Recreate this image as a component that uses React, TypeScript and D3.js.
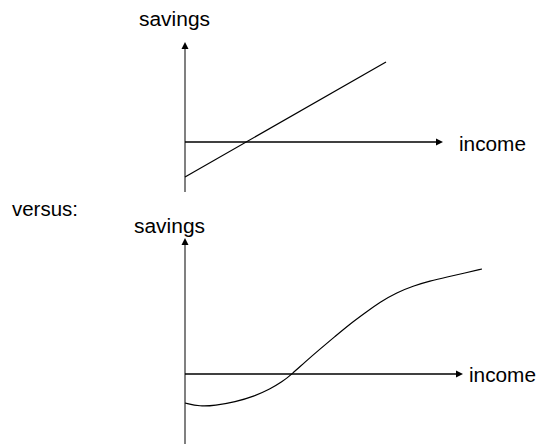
import React from "react";
import * as d3 from "d3";

// Data (income, savings) in chart units
const linearIncome = [0, 201];
const linearSavings = [-35, 80];

const curveIncome = [0, 15, 30, 50, 70, 85, 97, 107, 120, 135, 150, 165, 180, 195, 212, 228, 245, 262, 280, 297];
const curveSavings = [-29, -32.5, -31.5, -28, -22, -15, -8, 0, 12, 25, 37.5, 50, 61, 72, 81.5, 88, 93, 97, 101, 105];

const axisLabels = ["savings", "income"];
const separatorLabel = "versus:";

const W = 538;
const H = 444;
const FONT = "'Liberation Sans', Arial, Helvetica, sans-serif";

type PanelProps = {
  originX: number;
  originY: number;
  yMin: number;
  yMax: number;
  xMax: number;
  xs: number[];
  ys: number[];
  curved: boolean;
  savingsPos: [number, number];
  incomePos: [number, number];
};

function Panel(p: PanelProps) {
  const x = d3.scaleLinear().domain([0, 100]).range([p.originX, p.originX + 100]);
  const y = d3.scaleLinear().domain([0, 100]).range([p.originY, p.originY - 100]);
  const pts: [number, number][] = p.xs.map((v, i) => [v, p.ys[i]]);
  const line = d3
    .line<[number, number]>()
    .x((d) => x(d[0]))
    .y((d) => y(d[1]))
    .curve(p.curved ? d3.curveBasis : d3.curveLinear);

  const ax = x(0);
  const yTop = y(p.yMax);
  const yBot = y(p.yMin);
  const xEnd = x(p.xMax);
  const ay = y(0);

  return (
    <g>
      {/* vertical axis */}
      <line x1={ax} x2={ax} y1={yBot} y2={yTop + 5} stroke="#808080" strokeWidth={2} />
      <path d={`M${ax},${yTop} L${ax - 3.5},${yTop + 7} L${ax + 3.5},${yTop + 7} Z`} fill="#000" />
      {/* horizontal axis */}
      <line x1={ax} x2={xEnd - 5} y1={ay} y2={ay} stroke="#000" strokeWidth={1.3} />
      <path d={`M${xEnd},${ay} L${xEnd - 7},${ay - 3.5} L${xEnd - 7},${ay + 3.5} Z`} fill="#000" />
      {/* data line */}
      <path d={line(pts) || ""} fill="none" stroke="#000" strokeWidth={1.2} />
      <text
        x={p.savingsPos[0]}
        y={p.savingsPos[1]}
        fontFamily={FONT}
        fontSize={20}
        textLength={71}
        lengthAdjust="spacingAndGlyphs"
        fill="#000"
      >
        {axisLabels[0]}
      </text>
      <text
        x={p.incomePos[0]}
        y={p.incomePos[1]}
        fontFamily={FONT}
        fontSize={20}
        textLength={67}
        lengthAdjust="spacingAndGlyphs"
        fill="#000"
      >
        {axisLabels[1]}
      </text>
    </g>
  );
}

export default function App() {
  return (
    <svg
      width={W}
      height={H}
      style={{ position: "absolute", left: 0, top: 0, background: "#fff" }}
    >
      <Panel
        originX={185}
        originY={142}
        yMin={-50}
        yMax={100}
        xMax={258}
        xs={linearIncome}
        ys={linearSavings}
        curved={false}
        savingsPos={[139, 26]}
        incomePos={[459, 151]}
      />
      <text
        x={12}
        y={216}
        fontFamily={FONT}
        fontSize={20}
        textLength={66}
        lengthAdjust="spacingAndGlyphs"
        fill="#000"
      >
        {separatorLabel}
      </text>
      <Panel
        originX={185}
        originY={374}
        yMin={-72}
        yMax={136}
        xMax={278}
        xs={curveIncome}
        ys={curveSavings}
        curved={true}
        savingsPos={[134, 233]}
        incomePos={[469, 382]}
      />
    </svg>
  );
}
